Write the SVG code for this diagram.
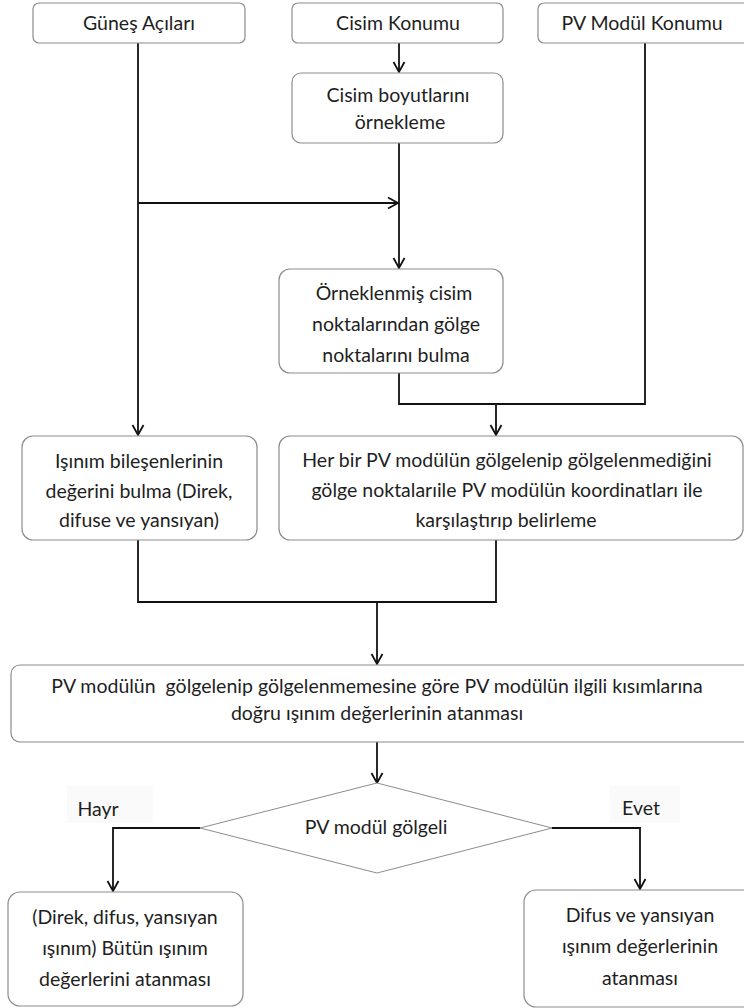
<svg xmlns="http://www.w3.org/2000/svg" width="744" height="1008" viewBox="0 0 744 1008">
  <style>
    .box { fill: #ffffff; stroke: #8c8c8c; stroke-width: 1.2; }
    .dia { fill: #ffffff; stroke: #8c8c8c; stroke-width: 1; }
    .lbl { font-family: Lato, "Open Sans", "Liberation Sans", sans-serif; font-size: 19.5px; fill: #1e1e1e; text-anchor: middle; }
    .wire { fill: none; stroke: #111111; stroke-width: 1.8; }
    .tag { fill: #fafafa; }
  </style>
  <defs>
    <marker id="arr" markerUnits="userSpaceOnUse" markerWidth="14" markerHeight="14" refX="11" refY="7" orient="auto">
      <path d="M1,1.5 L11,7 L1,12.5" fill="none" stroke="#111111" stroke-width="1.8"/>
    </marker>
  </defs>
  <rect width="744" height="1008" fill="#ffffff"/>

  <!-- connectors -->
  <g id="connectors">
    <path class="wire" d="M138,43 V435" marker-end="url(#arr)"/>
    <path class="wire" d="M138,203 H398" marker-end="url(#arr)"/>
    <path class="wire" d="M399,43 V72" marker-end="url(#arr)"/>
    <path class="wire" d="M399,143 V268" marker-end="url(#arr)"/>
    <path class="wire" d="M399,373 V404 H496"/>
    <path class="wire" d="M645,43 V404 H496 V435" marker-end="url(#arr)"/>
    <path class="wire" d="M138,540 V602 H496 V540"/>
    <path class="wire" d="M377,602 V664" marker-end="url(#arr)"/>
    <path class="wire" d="M377,742 V783" marker-end="url(#arr)"/>
    <path class="wire" d="M200,828 H113 V891" marker-end="url(#arr)"/>
    <path class="wire" d="M552,828 H640 V889" marker-end="url(#arr)"/>
  </g>

  <g id="gunes-acilari">
    <rect class="box" x="33" y="3" width="212" height="40" rx="6"/>
    <text class="lbl" x="139" y="30">Güneş Açıları</text>
  </g>

  <g id="cisim-konumu">
    <rect class="box" x="292" y="3" width="211" height="40" rx="6"/>
    <text class="lbl" x="398" y="30">Cisim Konumu</text>
  </g>

  <g id="pv-modul-konumu">
    <rect class="box" x="538" y="3" width="214" height="40" rx="6"/>
    <text class="lbl" x="642" y="30">PV Modül Konumu</text>
  </g>

  <g id="ornekleme">
    <rect class="box" x="292" y="73" width="211" height="70" rx="9"/>
    <text class="lbl" x="398" y="102">Cisim boyutlarını</text>
    <text class="lbl" x="400" y="129">örnekleme</text>
  </g>

  <g id="golge-noktalari">
    <rect class="box" x="279" y="269" width="224" height="104" rx="11"/>
    <text class="lbl" x="394" y="300">Örneklenmiş cisim</text>
    <text class="lbl" x="396" y="331">noktalarından gölge</text>
    <text class="lbl" x="396" y="362">noktalarını bulma</text>
  </g>

  <g id="isinim-bilesenleri">
    <rect class="box" x="22" y="436" width="235" height="104" rx="11"/>
    <text class="lbl" x="139" y="468">Işınım bileşenlerinin</text>
    <text class="lbl" x="139" y="498">değerini bulma (Direk,</text>
    <text class="lbl" x="139" y="527">difuse ve yansıyan)</text>
  </g>

  <g id="golgelenme-belirleme">
    <rect class="box" x="279" y="436" width="464" height="104" rx="11"/>
    <text class="lbl" x="507" y="467">Her bir PV modülün gölgelenip gölgelenmediğini</text>
    <text class="lbl" x="507" y="497">gölge noktalarıile PV modülün koordinatları ile</text>
    <text class="lbl" x="506" y="527">karşılaştırıp belirleme</text>
  </g>

  <g id="deger-atama">
    <rect class="box" x="11" y="665" width="745" height="77" rx="9"/>
    <text class="lbl" x="377" y="693" xml:space="preserve">PV modülün  gölgelenip gölgelenmemesine göre PV modülün ilgili kısımlarına</text>
    <text class="lbl" x="377" y="720">doğru ışınım değerlerinin atanması</text>
  </g>

  <g id="karar">
    <polygon class="dia" points="377,783 552,828 377,873 200,828"/>
    <text class="lbl" x="376" y="834">PV modül gölgeli</text>
  </g>

  <g id="etiket-hayir">
    <rect class="tag" x="67" y="786" width="86" height="37"/>
    <text class="lbl" x="98" y="816">Hayr</text>
  </g>

  <g id="etiket-evet">
    <rect class="tag" x="610" y="786" width="70" height="37"/>
    <text class="lbl" x="641" y="815">Evet</text>
  </g>

  <g id="butun-isinim">
    <rect class="box" x="8" y="892" width="235" height="114" rx="12"/>
    <text class="lbl" x="125" y="924">(Direk, difus, yansıyan</text>
    <text class="lbl" x="125" y="955">ışınım) Bütün ışınım</text>
    <text class="lbl" x="125" y="986">değerlerini atanması</text>
  </g>

  <g id="difus-yansiyan">
    <rect class="box" x="524" y="890" width="232" height="117" rx="12"/>
    <text class="lbl" x="640" y="922">Difus ve yansıyan</text>
    <text class="lbl" x="640" y="953">ışınım değerlerinin</text>
    <text class="lbl" x="640" y="985">atanması</text>
  </g>
</svg>
